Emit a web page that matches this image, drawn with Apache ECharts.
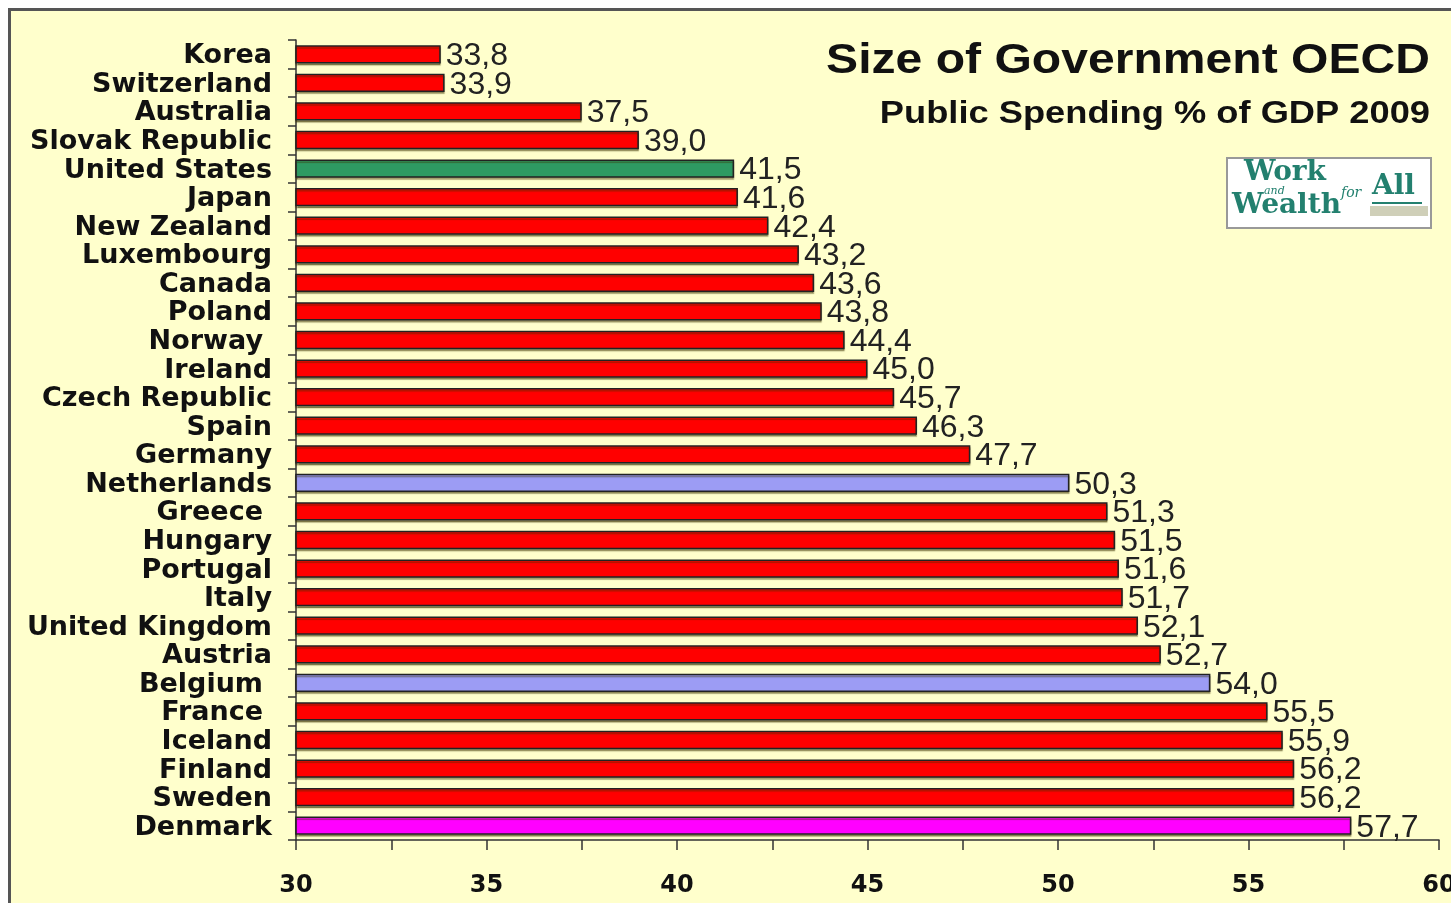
<!DOCTYPE html>
<html><head><meta charset="utf-8">
<script src="https://cdn.jsdelivr.net/npm/echarts@6/dist/echarts.min.js"></script>
<style>html,body{margin:0;padding:0;background:#fff}#c{width:1451px;height:903px}</style>
</head><body><div id="c"></div>
<script>
const countries = ['Korea','Switzerland','Australia','Slovak Republic','United States','Japan','New Zealand','Luxembourg','Canada','Poland','Norway','Ireland','Czech Republic','Spain','Germany','Netherlands','Greece','Hungary','Portugal','Italy','United Kingdom','Austria','Belgium','France','Iceland','Finland','Sweden','Denmark'];
const spending = [33.8,33.9,37.5,39.0,41.5,41.6,42.4,43.2,43.6,43.8,44.4,45.0,45.7,46.3,47.7,50.3,51.3,51.5,51.6,51.7,52.1,52.7,54.0,55.5,55.9,56.2,56.2,57.7];
const xTicks = [30,35,40,45,50,55,60];
const titleText = 'Size of Government OECD';
const subtitleText = 'Public Spending % of GDP 2009';

const special = {'United States':'#2E9A62','Netherlands':'#9C9CF4','Belgium':'#9C9CF4','Denmark':'#FF00FF'};
const padded = new Set(['Norway','Greece','Belgium','France']);
const chart = echarts.init(document.getElementById('c'), null, {renderer:'canvas'});
const teal = '#23806F';
chart.setOption({
  backgroundColor:'#ffffff',
  animation:false,
  grid:{left:296, right:12, top:40, bottom:63, outerBoundsMode:'none', containLabel:false},
  xAxis:{type:'value', min:xTicks[0], max:xTicks[xTicks.length-1], interval:5,
    axisLine:{show:true, lineStyle:{color:'#333', width:1.5}},
    axisTick:{show:true, length:10, lineStyle:{color:'#333', width:1.5}},
    minorTick:{show:true, splitNumber:2, length:10, lineStyle:{color:'#333', width:1.5}},
    splitLine:{show:false},
    axisLabel:{margin:34, color:'#111', fontFamily:'DejaVu Sans', fontWeight:'bold', fontSize:24, hideOverlap:false}
  },
  yAxis:{type:'category', data:countries, inverse:true,
    axisLine:{show:true, lineStyle:{color:'#333', width:1.5}},
    axisTick:{show:true, length:8, lineStyle:{color:'#333', width:1.5}},
    axisLabel:{interval:0, hideOverlap:false, margin:24, color:'#111', fontFamily:'DejaVu Sans', fontWeight:'bold', fontSize:27,
      padding:[4,0,0,0],
      formatter:v=>padded.has(v) ? '{p|' + v + '}' : v,
      rich:{p:{padding:[0,9,0,0], fontFamily:'DejaVu Sans', fontWeight:'bold', fontSize:27, color:'#111'}}
    }
  },
  series:[{type:'bar', data:spending.map((v,i)=>({value:v, itemStyle:{color: special[countries[i]] || '#FF0000'}})),
    barCategoryGap:'36%',
    itemStyle:{borderColor:'#222', borderWidth:1.5, shadowColor:'rgba(60,50,0,0.45)', shadowOffsetY:2, shadowBlur:1},
    label:{show:true, position:'right', distance:5, offset:[0,2], color:'#222', fontFamily:'Liberation Sans', fontSize:32,
      formatter:p=>p.value.toFixed(1).replace('.',',')}
  }],
  graphic:[
    {type:'rect', z:-10, shape:{x:9.5, y:9.5, width:1460, height:900}, style:{fill:'#FFFFCC', stroke:'#555', lineWidth:3}},
    {type:'text', x:1430, y:61, scaleX:1.145, style:{text:titleText, font:'bold 42px "Liberation Sans"', fill:'#111', align:'right', verticalAlign:'middle'}},
    {type:'text', x:1430, y:114, scaleX:1.17, style:{text:subtitleText, font:'bold 31px "Liberation Sans"', fill:'#111', align:'right', verticalAlign:'middle'}},
    {type:'group', x:1227, y:158, children:[
      {type:'rect', shape:{x:0, y:0, width:204, height:70}, style:{fill:'#fff', stroke:'#999', lineWidth:2}},
      {type:'text', x:17, y:1, style:{text:'Work', font:'bold 28px "DejaVu Serif"', fill:teal}},
      {type:'text', x:37, y:28, style:{text:'and', font:'italic 11px "DejaVu Serif"', fill:teal}},
      {type:'text', x:5, y:34, style:{text:'Wealth', font:'bold 28px "DejaVu Serif"', fill:teal}},
      {type:'text', x:114, y:28, style:{text:'for', font:'italic 14px "DejaVu Serif"', fill:teal}},
      {type:'text', x:145, y:15, style:{text:'All', font:'bold 28px "DejaVu Serif"', fill:teal}},
      {type:'rect', shape:{x:145, y:44, width:50, height:2}, style:{fill:teal}},
      {type:'rect', shape:{x:143, y:48, width:58, height:10}, style:{fill:'#CFCFB8'}}
    ]}
  ]
});
</script></body></html>
